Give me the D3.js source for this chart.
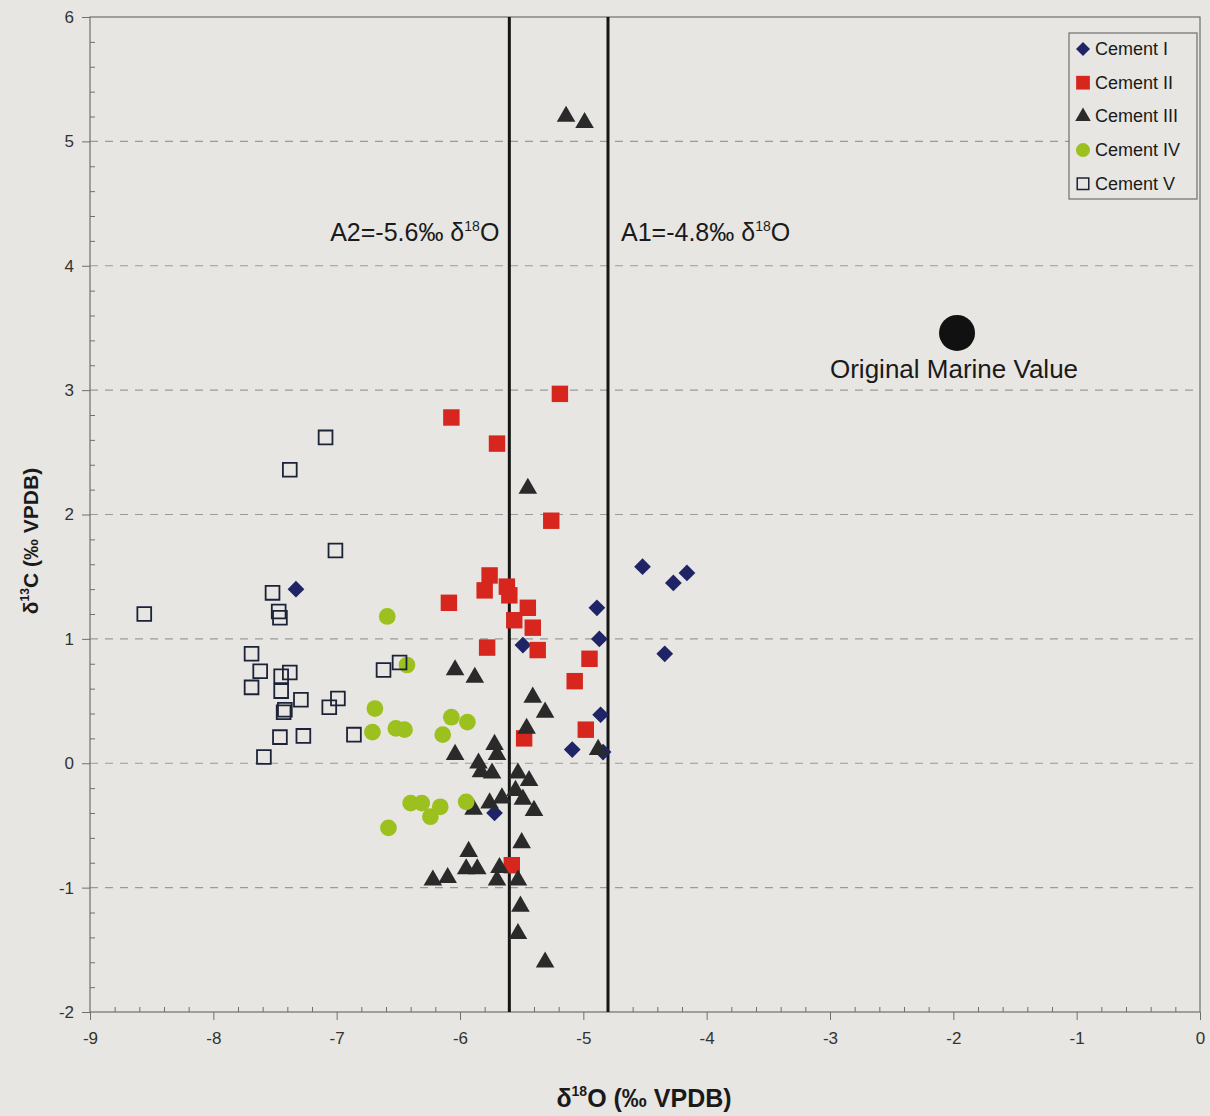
<!DOCTYPE html>
<html>
<head>
<meta charset="utf-8">
<script src="https://cdn.jsdelivr.net/npm/d3@7"></script>
<style>
  body { margin: 0; background: #e7e6e2; }
  svg { font-family: "Liberation Sans", Arial, sans-serif; }
  .tick text { fill: #333; }
</style>
</head>
<body>
<svg id="svg1" width="1210" height="1116"></svg>
<script>
const svg = d3.select("svg#svg1");
const width = +svg.attr('width');
const height = +svg.attr('height');
const margin = { top: 17, right: 10, bottom: 104, left: 90 };
const chartWidth = width - margin.left - margin.right;
const chartHeight = height - margin.top - margin.bottom;

// data: [d18O, d13C]
const cementI = [[-7.33, 1.40], [-4.52, 1.58], [-4.27, 1.45], [-4.16, 1.53], [-4.34, 0.88],
    [-4.89, 1.25], [-4.87, 1.00], [-4.86, 0.39], [-5.09, 0.11], [-4.84, 0.09],
    [-5.49, 0.95], [-5.72, -0.40]];
const cementII = [[-5.19, 2.97], [-6.07, 2.78], [-5.70, 2.57], [-5.26, 1.95], [-5.76, 1.51],
    [-5.80, 1.39], [-5.62, 1.42], [-5.60, 1.35], [-5.45, 1.25], [-5.56, 1.15],
    [-5.41, 1.09], [-5.37, 0.91], [-5.78, 0.93], [-6.09, 1.29], [-4.95, 0.84],
    [-5.07, 0.66], [-4.98, 0.27], [-5.48, 0.20], [-5.58, -0.82]];
const cementIII = [[-5.14, 5.20], [-4.99, 5.15], [-5.45, 2.21], [-6.04, 0.75], [-5.88, 0.69],
    [-5.41, 0.53], [-5.31, 0.41], [-5.46, 0.28], [-6.04, 0.07], [-5.72, 0.15],
    [-5.70, 0.07], [-5.85, 0.00], [-5.83, -0.07], [-5.74, -0.08], [-5.53, -0.08],
    [-5.44, -0.14], [-5.55, -0.22], [-5.49, -0.29], [-5.40, -0.38], [-5.89, -0.37],
    [-5.76, -0.32], [-5.66, -0.28], [-5.50, -0.64], [-5.93, -0.71], [-5.95, -0.85],
    [-5.86, -0.85], [-5.68, -0.84], [-5.70, -0.94], [-5.53, -0.94], [-6.22, -0.94],
    [-6.10, -0.92], [-5.51, -1.15], [-5.53, -1.37], [-5.31, -1.60], [-4.88, 0.11]];
const cementIV = [[-6.59, 1.18], [-6.43, 0.79], [-6.69, 0.44], [-6.71, 0.25], [-6.52, 0.28],
    [-6.45, 0.27], [-6.07, 0.37], [-5.94, 0.33], [-6.14, 0.23], [-6.40, -0.32],
    [-6.31, -0.32], [-6.16, -0.35], [-6.24, -0.43], [-5.95, -0.31], [-6.58, -0.52]];
const cementV = [[-7.09, 2.62], [-7.38, 2.36], [-7.01, 1.71], [-8.56, 1.20], [-7.52, 1.37],
    [-7.47, 1.22], [-7.46, 1.17], [-7.69, 0.88], [-7.62, 0.74], [-7.69, 0.61],
    [-7.45, 0.70], [-7.38, 0.73], [-7.45, 0.58], [-7.29, 0.51], [-7.43, 0.41],
    [-7.42, 0.43], [-6.99, 0.52], [-7.06, 0.45], [-7.46, 0.21], [-7.27, 0.22],
    [-7.59, 0.05], [-6.86, 0.23], [-6.62, 0.75], [-6.49, 0.81]];
const marine = [-1.97, 3.46];
const thresholds = [{ v: -5.6, label: "A2=-5.6‰ δ", anchor: "end", dx: -10 },
    { v: -4.8, label: "A1=-4.8‰ δ", anchor: "start", dx: 13 }];
const xTicks = d3.range(-9, 0.5, 1);
const yTicks = d3.range(-2, 6.5, 1);

const series = [
    { name: "Cement I", data: cementI, type: d3.symbolSquare, size: 140, rotate: 45, fill: "#1e2466", stroke: "none" },
    { name: "Cement II", data: cementII, type: d3.symbolSquare, size: 270, rotate: 0, fill: "#d6261e", stroke: "none" },
    { name: "Cement III", data: cementIII, type: d3.symbolTriangle, size: 150, rotate: 0, fill: "#2a2a2a", stroke: "none" },
    { name: "Cement IV", data: cementIV, type: d3.symbolCircle, size: 220, rotate: 0, fill: "#9cc01e", stroke: "none" },
    { name: "Cement V", data: cementV, type: d3.symbolSquare, size: 190, rotate: 0, fill: "none", stroke: "#1c2238" }
];

const chart = svg.append("g").attr("transform", `translate(${margin.left},${margin.top})`);

const x = d3.scaleLinear().domain([-9, 0]).range([0, chartWidth]);
const y = d3.scaleLinear().domain([-2, 6]).range([chartHeight, 0]);

// gridlines
chart.append("g").selectAll("line")
    .data(yTicks.filter(d => d > -2 && d < 6))
    .join("line")
    .attr("x1", 0).attr("x2", chartWidth)
    .attr("y1", d => y(d)).attr("y2", d => y(d))
    .style("stroke", "#9a9a9a").style("stroke-width", 1.2)
    .style("stroke-dasharray", "8,7");

// frame
chart.append("rect").attr("width", chartWidth).attr("height", chartHeight)
    .style("fill", "none").style("stroke", "#6f6f6f").style("stroke-width", 1.2);

// minor ticks
const minorX = d3.range(-9, 0.01, 0.2).map(d => +d.toFixed(1)).filter(d => Math.abs(d - Math.round(d)) > 0.01);
const minorY = d3.range(-2, 6.01, 0.2).map(d => +d.toFixed(1)).filter(d => Math.abs(d - Math.round(d)) > 0.01);
chart.append("g").attr("transform", `translate(0,${chartHeight})`)
    .call(d3.axisBottom(x).tickValues(minorX).tickSize(-5).tickFormat(""))
    .call(g => g.select(".domain").remove())
    .selectAll("line").style("stroke", "#6f6f6f");
chart.append("g")
    .call(d3.axisLeft(y).tickValues(minorY).tickSize(-5).tickFormat(""))
    .call(g => g.select(".domain").remove())
    .selectAll("line").style("stroke", "#6f6f6f");

// major axes
const xAxis = chart.append("g").attr("transform", `translate(0,${chartHeight})`)
    .call(d3.axisBottom(x).tickValues(xTicks).tickSize(8).tickPadding(12).tickFormat(d => String(d)));
xAxis.select(".domain").remove();
xAxis.selectAll("line").style("stroke", "#6f6f6f");
xAxis.selectAll("text").style("font-size", "17px");

const yAxis = chart.append("g")
    .call(d3.axisLeft(y).tickValues(yTicks).tickSize(8).tickPadding(8).tickFormat(d => String(d)));
yAxis.select(".domain").remove();
yAxis.selectAll("line").style("stroke", "#6f6f6f");
yAxis.selectAll("text").style("font-size", "17px");

// threshold lines
const thr = chart.append("g");
thr.selectAll("line").data(thresholds).join("line")
    .attr("x1", d => x(d.v)).attr("x2", d => x(d.v))
    .attr("y1", 0).attr("y2", chartHeight)
    .style("stroke", "#151515").style("stroke-width", 3);
const thrText = thr.selectAll("text").data(thresholds).join("text")
    .attr("x", d => x(d.v) + d.dx).attr("y", y(4.2))
    .attr("text-anchor", d => d.anchor)
    .style("font-size", "25px").style("fill", "#1a1a1a");
thrText.append("tspan").text(d => d.label);
thrText.append("tspan").text("18").style("font-size", "14px").attr("dy", -10);
thrText.append("tspan").text("O").attr("dy", 10);

// marine value
chart.append("circle").attr("cx", x(marine[0])).attr("cy", y(marine[1])).attr("r", 18)
    .style("fill", "#111");
chart.append("text").attr("x", x(marine[0]) - 3).attr("y", y(marine[1]) + 45)
    .attr("text-anchor", "middle").style("font-size", "26px").style("fill", "#1a1a1a")
    .text("Original Marine Value");

// points
series.forEach(s => {
    chart.append("g").selectAll("path").data(s.data).join("path")
        .attr("d", d3.symbol().type(s.type).size(s.size))
        .attr("transform", d => `translate(${x(d[0])},${y(d[1])}) rotate(${s.rotate})`)
        .style("fill", s.fill)
        .style("stroke", s.stroke)
        .style("stroke-width", 1.8);
});

// legend
const legend = svg.append("g").attr("transform", "translate(1069,33)");
legend.append("rect").attr("width", 128).attr("height", 166)
    .style("fill", "#e7e6e2").style("stroke", "#6f6f6f").style("stroke-width", 1.2);
const items = legend.selectAll("g").data(series).join("g")
    .attr("transform", (d, i) => `translate(0,${16 + i * 33.7})`);
items.append("path")
    .attr("d", d => d3.symbol().type(d.type).size(d.size * 0.7)())
    .attr("transform", d => `translate(14,0) rotate(${d.rotate})`)
    .style("fill", d => d.fill).style("stroke", d => d.stroke).style("stroke-width", 1.5);
items.append("text").attr("x", 26).attr("y", 6).style("font-size", "18px").style("fill", "#1a1a1a")
    .text(d => d.name);

// axis titles
const xTitle = svg.append("text").attr("x", 644).attr("y", 1107)
    .attr("text-anchor", "middle").style("font-size", "25px").style("font-weight", "bold").style("fill", "#1a1a1a");
xTitle.append("tspan").text("δ");
xTitle.append("tspan").text("18").style("font-size", "14px").attr("dy", -11);
xTitle.append("tspan").text("O (‰ VPDB)").attr("dy", 11);

const yTitle = svg.append("text").attr("transform", `translate(38,541) rotate(-90)`)
    .attr("text-anchor", "middle").style("font-size", "21px").style("font-weight", "bold").style("fill", "#1a1a1a");
yTitle.append("tspan").text("δ");
yTitle.append("tspan").text("13").style("font-size", "12px").attr("dy", -9);
yTitle.append("tspan").text("C (‰ VPDB)").attr("dy", 9);
</script>
</body>
</html>
